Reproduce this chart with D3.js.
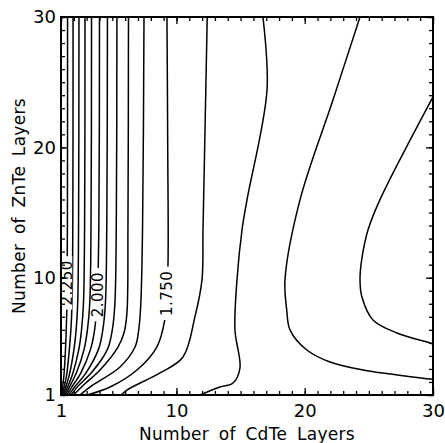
<!DOCTYPE html>
<html>
<head>
<meta charset="utf-8">
<script src="https://cdn.jsdelivr.net/npm/d3@7"></script>
<style>
  body { margin: 0; background: #fff; }
  svg { display: block; }
  text { font-family: "DejaVu Sans", sans-serif; fill: #000; }
</style>
</head>
<body>
<div id="chart"></div>
<script>
// contour lines, [CdTe layers, ZnTe layers]
var c225 = [[1.51,30],[1.50,14],[1.46,8],[1.41,6],[1.35,4.5],[1.22,2.4],[1.08,1.3],[1.04,1]];
var c220 = [[1.94,30],[1.92,14],[1.86,8],[1.77,6],[1.65,4.5],[1.42,2.4],[1.18,1.35],[1.10,1]];
var c215 = [[2.40,30],[2.37,14],[2.30,8],[2.18,6],[2.01,4.5],[1.64,2.5],[1.30,1.4],[1.16,1]];
var c210 = [[2.87,30],[2.84,14],[2.75,8],[2.60,6],[2.39,4.5],[1.90,2.6],[1.44,1.45],[1.24,1]];
var c205 = [[3.38,30],[3.34,14],[3.24,8],[3.06,6],[2.80,4.5],[2.20,2.7],[1.60,1.5],[1.33,1]];
var c200 = [[4.00,30],[3.95,14],[3.83,8.5],[3.62,6],[3.30,4.5],[2.55,2.7],[1.80,1.55],[1.45,1]];
var c195 = [[4.62,30],[4.57,14],[4.46,8],[4.26,6],[3.92,4.5],[2.95,2.7],[2.05,1.6],[1.60,1]];
var c190 = [[5.36,30],[5.31,14],[5.20,8],[5.00,6],[4.62,4.5],[3.45,2.8],[2.35,1.7],[1.78,1]];
var c185 = [[6.26,30],[6.22,14],[6.14,7.3],[5.92,5.8],[5.44,4.68],[4.04,2.92],[2.80,1.8],[1.98,1]];
var c180 = [[7.47,30],[7.36,14],[7.22,8],[7.06,6],[6.77,4.68],[5.60,3.15],[3.49,1.77],[2.48,1]];
var c175 = [[9.26,30],[9.32,20],[9.34,11],[9.20,8],[9.10,6.8],[8.48,4.7],[6.92,2.92],[4.82,1.61],[3.03,1]];
var c170 = [[12.4,30],[12.2,20],[12.07,13.66],[11.99,9.83],[11.44,6.99],[10.51,3.92],[8.72,2.69],[6.14,1.38],[5.7,1]];
var c165 = [[16.74,30],[17.06,24.4],[15.5,15.97],[15.11,13.66],[14.72,9.83],[14.56,6.0],[14.95,3.07],[14.41,1.92],[13.39,1.61],[11.84,1]];
var c160 = [[24.31,30],[22.2,23.64],[19.63,15.97],[18.46,9.83],[18.6,7.5],[18.85,6.0],[20.17,4.45],[21.97,3.53],[24.54,2.92],[29.76,2.23],[30,2.2]];
var c155 = [[30,23.87],[25.86,15.97],[24.93,13.66],[24.46,11.5],[24.31,9.83],[24.46,8.52],[25.32,6.76],[27.19,5.76],[29.76,4.99],[30,4.9]];

var levels = [2.25, 2.20, 2.15, 2.10, 2.05, 2.00, 1.95, 1.90, 1.85, 1.80, 1.75, 1.70, 1.65, 1.60, 1.55];
var lines = [c225, c220, c215, c210, c205, c200, c195, c190, c185, c180, c175, c170, c165, c160, c155];

// labelled contours
var labelText = ["2.250", "2.000", "1.750"];
var labelX = [1.45, 3.83, 9.25];
var labelY = [9.6, 8.7, 8.8];

var majorTicks = [1, 10, 20, 30];

var width = 445, height = 443;
var margin = { top: 17, right: 12, bottom: 48, left: 61 };

var svg = d3.select("#chart")
    .append("svg")
    .attr("width", width)
    .attr("height", height);

var xScale = d3.scaleLinear().domain([1, 30]).range([margin.left, width - margin.right]);
var yScale = d3.scaleLinear().domain([1, 30]).range([height - margin.bottom, margin.top]);

svg.append("clipPath")
    .attr("id", "plot")
    .append("rect")
    .attr("x", margin.left)
    .attr("y", margin.top)
    .attr("width", width - margin.left - margin.right)
    .attr("height", height - margin.top - margin.bottom);

var line = d3.line()
    .x(function (d) { return xScale(d[0]); })
    .y(function (d) { return yScale(d[1]); })
    .curve(d3.curveCatmullRom.alpha(0.5));

svg.append("g")
    .attr("clip-path", "url(#plot)")
    .selectAll("path")
    .data(lines)
    .join("path")
    .attr("d", line)
    .attr("fill", "none")
    .attr("stroke", "#000")
    .attr("stroke-width", 1.5);

// contour labels, white box breaks the line
var lab = svg.append("g")
    .selectAll("g")
    .data(labelText)
    .join("g")
    .attr("transform", function (d, i) {
        return `translate(${xScale(labelX[i])},${yScale(labelY[i])}) rotate(-90)`;
    });

lab.append("rect").attr("fill", "#fff");
lab.append("text")
    .attr("text-anchor", "middle")
    .attr("dy", "0.36em")
    .style("font-size", "15px")
    .style("letter-spacing", "0.5px")
    .text(function (d) { return d; });
lab.each(function () {
    var g = d3.select(this);
    var len = g.select("text").node().getComputedTextLength();
    g.select("rect")
        .attr("x", -len / 2 - 4)
        .attr("y", -5.5)
        .attr("width", len + 8)
        .attr("height", 11);
});

/*
AXES
*/
function styleAxis(g) {
    g.select(".domain").remove();
    g.selectAll(".tick line").attr("stroke", "#000").attr("stroke-width", 1.3);
    g.selectAll("text").style("font-size", "18px").attr("fill", "#000");
}

var bottom = height - margin.bottom;
var right = width - margin.right;

svg.append("g")
    .attr("transform", `translate(0,${bottom})`)
    .call(d3.axisBottom(xScale).tickValues(d3.range(1, 31)).tickSize(-4).tickFormat(""))
    .call(styleAxis);
svg.append("g")
    .attr("transform", `translate(0,${bottom})`)
    .call(d3.axisBottom(xScale).tickValues(majorTicks).tickSize(-7).tickPadding(9).tickFormat(d3.format("d")))
    .call(styleAxis);
svg.append("g")
    .attr("transform", `translate(0,${margin.top})`)
    .call(d3.axisTop(xScale).tickValues(d3.range(1, 31)).tickSize(-4).tickFormat(""))
    .call(styleAxis);
svg.append("g")
    .attr("transform", `translate(0,${margin.top})`)
    .call(d3.axisTop(xScale).tickValues(majorTicks).tickSize(-7).tickFormat(""))
    .call(styleAxis);

svg.append("g")
    .attr("transform", `translate(${margin.left},0)`)
    .call(d3.axisLeft(yScale).tickValues(d3.range(1, 31)).tickSize(-4).tickFormat(""))
    .call(styleAxis);
svg.append("g")
    .attr("transform", `translate(${margin.left},0)`)
    .call(d3.axisLeft(yScale).tickValues(majorTicks).tickSize(-7).tickPadding(5).tickFormat(d3.format("d")))
    .call(styleAxis);
svg.append("g")
    .attr("transform", `translate(${right},0)`)
    .call(d3.axisRight(yScale).tickValues(d3.range(1, 31)).tickSize(-4).tickFormat(""))
    .call(styleAxis);
svg.append("g")
    .attr("transform", `translate(${right},0)`)
    .call(d3.axisRight(yScale).tickValues(majorTicks).tickSize(-7).tickFormat(""))
    .call(styleAxis);

// frame
svg.append("rect")
    .attr("x", margin.left)
    .attr("y", margin.top)
    .attr("width", right - margin.left)
    .attr("height", bottom - margin.top)
    .attr("fill", "none")
    .attr("stroke", "#000")
    .attr("stroke-width", 2);

// axis titles
svg.append("text")
    .attr("x", (margin.left + right) / 2)
    .attr("y", 440)
    .attr("text-anchor", "middle")
    .style("font-size", "17px")
    .style("word-spacing", "4px")
    .style("letter-spacing", "0.3px")
    .text("Number of CdTe Layers");

svg.append("text")
    .attr("transform", `translate(25,${(margin.top + bottom) / 2}) rotate(-90)`)
    .attr("text-anchor", "middle")
    .style("font-size", "17px")
    .style("word-spacing", "4px")
    .style("letter-spacing", "0.3px")
    .text("Number of ZnTe Layers");
</script>
</body>
</html>
